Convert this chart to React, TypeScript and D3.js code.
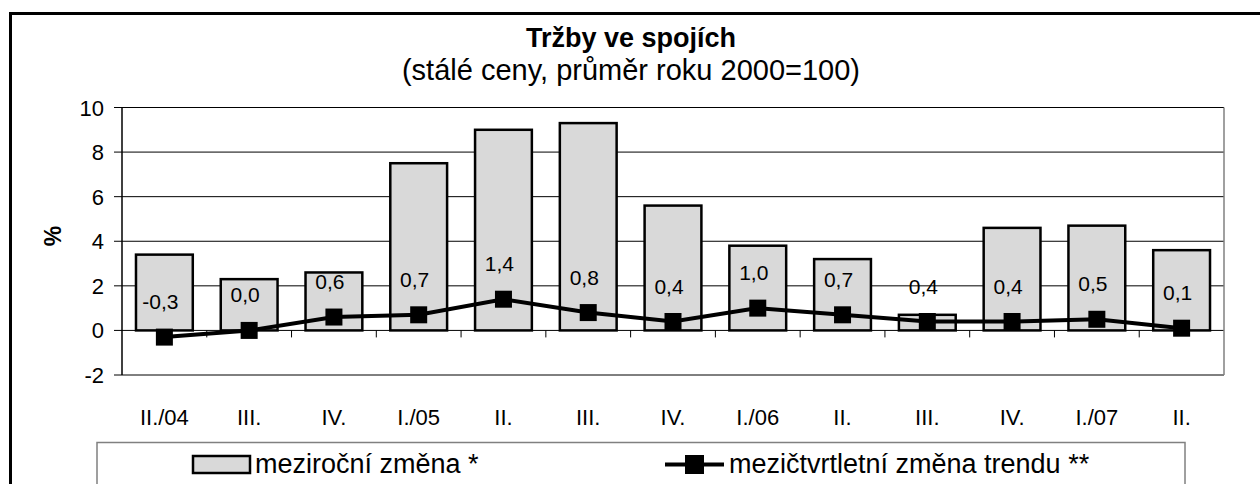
import React from "react";
import * as d3 from "d3";

const categories = ["II./04", "III.", "IV.", "I./05", "II.", "III.", "IV.", "I./06", "II.", "III.", "IV.", "I./07", "II."];
const yearOnYear = [3.4, 2.3, 2.6, 7.5, 9.0, 9.3, 5.6, 3.8, 3.2, 0.7, 4.6, 4.7, 3.6];
const trendChange = [-0.3, 0.0, 0.6, 0.7, 1.4, 0.8, 0.4, 1.0, 0.7, 0.4, 0.4, 0.5, 0.1];
const yTicks = [-2, 0, 2, 4, 6, 8, 10];

const W = 1260;
const H = 484;
const FONT = "'Liberation Sans', Arial, sans-serif";

export default function App() {
  const left = 122, right = 1224, top = 107.5, bottom = 375;
  const ids = categories.map((_, i) => String(i));
  const x = d3.scaleBand<string>().domain(ids).range([left, right]).paddingInner(0.33).paddingOuter(0.165);
  const xb = d3.scaleBand<string>().domain(ids).range([left, right]);
  const y = d3.scaleLinear().domain([-2, 10]).range([bottom, top]);
  const fmt = (v: number) => v.toFixed(1).replace(".", ",");
  const cxOf = (i: number) => (xb(String(i)) as number) + xb.bandwidth() / 2;
  const line = d3.line<number>().x((_, i) => cxOf(i)).y((d) => y(d));
  const ms = 17;

  return (
    <svg width={W} height={H} style={{ position: "absolute", left: 0, top: 0, background: "#fff" }} fontFamily={FONT}>
      <rect x={0} y={0} width={W} height={H} fill="#fff" />
      {/* outer frame */}
      <path d={`M10.5,${H + 5} L10.5,13.5 L${W + 5},13.5`} fill="none" stroke="#000" strokeWidth={3} />
      {/* title */}
      <text x={631} y={47} textAnchor="middle" fontSize={27} fontWeight="bold">Tržby ve spojích</text>
      <text x={631} y={80} textAnchor="middle" fontSize={29}>(stálé ceny, průměr roku 2000=100)</text>
      {/* gridlines */}
      {yTicks.map((t) => (
        <g key={t}>
          <line x1={left} x2={right} y1={y(t)} y2={y(t)} stroke="#000" strokeWidth={1} />
          <line x1={114} x2={left} y1={y(t)} y2={y(t)} stroke="#000" strokeWidth={1} />
          <text x={104} y={y(t) + 8} textAnchor="end" fontSize={22}>{t}</text>
        </g>
      ))}
      {/* plot border */}
      <line x1={right} x2={right} y1={top} y2={bottom} stroke="#808080" strokeWidth={1.5} />
      <line x1={left} x2={left} y1={top} y2={bottom} stroke="#000" strokeWidth={1.5} />
      {/* y axis title */}
      <text transform={`translate(61,236) rotate(-90)`} textAnchor="middle" fontSize={23} fontWeight="bold">%</text>
      {/* bars */}
      {yearOnYear.map((v, i) => (
        <rect key={i} x={x(String(i))} width={x.bandwidth()} y={y(Math.max(0, v))} height={Math.abs(y(v) - y(0))} fill="#d9d9d9" stroke="#000" strokeWidth={2.5} />
      ))}
      {/* x axis ticks */}
      {categories.map((_, i) => (
        i > 0 ? <line key={i} x1={xb(String(i))} x2={xb(String(i))} y1={y(0)} y2={y(0) + 7} stroke="#000" strokeWidth={1} /> : null
      ))}
      {/* line */}
      <path d={line(trendChange) || ""} fill="none" stroke="#000" strokeWidth={4} />
      {trendChange.map((v, i) => (
        <rect key={i} x={cxOf(i) - ms / 2} y={y(v) - ms / 2} width={ms} height={ms} fill="#000" />
      ))}
      {trendChange.map((v, i) => (
        <text key={i} x={cxOf(i) - 4} y={y(v) - 28} textAnchor="middle" fontSize={21}>{fmt(v)}</text>
      ))}
      {/* x labels */}
      {categories.map((c, i) => (
        <text key={i} x={cxOf(i)} y={425} textAnchor="middle" fontSize={22}>{c}</text>
      ))}
      {/* legend */}
      <rect x={97} y={442.5} width={1088} height={60} fill="#fff" stroke="#808080" strokeWidth={1.5} />
      <rect x={193} y={456} width={57} height={17} fill="#d9d9d9" stroke="#000" strokeWidth={2.5} />
      <text x={255} y={473} fontSize={27}>meziroční změna *</text>
      <line x1={665} x2={724} y1={464.5} y2={464.5} stroke="#000" strokeWidth={4} />
      <rect x={685} y={455} width={19} height={19} fill="#000" />
      <text x={729} y={473} fontSize={27}>mezičtvrtletní změna trendu **</text>
    </svg>
  );
}
